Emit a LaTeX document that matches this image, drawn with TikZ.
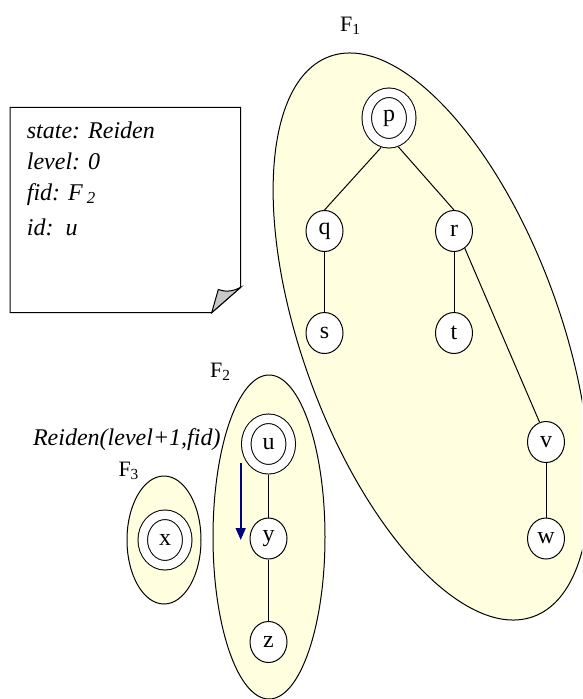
\documentclass[tikz,border=0pt]{standalone}
\usepackage{fontspec}
\setmainfont{Liberation Serif}
\usetikzlibrary{shapes.geometric,arrows.meta}
\definecolor{setfill}{RGB}{255,255,224}
\definecolor{arrowblue}{RGB}{0,0,128}
\definecolor{foldgray}{RGB}{200,200,200}
\tikzset{
  vtx/.style={draw, ellipse, fill=white, line width=1pt, minimum width=37pt,
    minimum height=41pt, inner sep=0pt, font=\fontsize{24}{24}\selectfont},
  rootvtx/.style={draw, ellipse, fill=white, line width=1pt, double=white,
    double distance=8.5pt, minimum width=44.5pt, minimum height=50.5pt,
    inner sep=0pt, outer sep=5.5pt, font=\fontsize{24}{24}\selectfont},
  setshape/.style={draw, fill=setfill, line width=1pt},
  edge/.style={line width=1pt},
  setlabel/.style={anchor=base west, inner sep=0pt, font=\fontsize{22}{22}\selectfont},
  notetext/.style={anchor=base west, inner sep=0pt, font=\fontsize{24}{24}\selectfont\itshape},
}
\begin{document}
\begin{tikzpicture}[x=1pt,y=-1pt]
\useasboundingbox (0,0) rectangle (582,699);
\clip (0,0) rectangle (582,699);
% sets
\draw[setshape, rotate around={-70:(431.5,336.5)}] (431.5,336.5) ellipse [x radius=298pt, y radius=129pt];
\draw[setshape] (269,537) ellipse [x radius=56pt, y radius=162pt];
\draw[setshape] (164,540) ellipse [x radius=37pt, y radius=64pt];
% note
\draw[line width=1pt, fill=white] (10,107.3) -- (240.7,107.3) -- (240.7,287.3) -- (211.7,312.7) -- (10,312.7) -- cycle;
\draw[line width=1pt, fill=foldgray] (211.7,312.7) -- (240.7,287.3) .. controls (230,293) and (223,291) .. (218.3,289.5) -- cycle;
\node[notetext] (n1) at (26.7,138.3) {state: Reiden};
\node[notetext] (n2) at (26.7,169.3) {level: 0};
\node[notetext] (n3) at (26.7,200) {fid: F\,\textsubscript{2}};
\node[notetext] (n4) at (26.7,235) {id:\ \ u};
% labels
\node[setlabel] (F1) at (340,31.7) {F\textsubscript{1}};
\node[setlabel] (F2) at (210,377.3) {F\textsubscript{2}};
\node[setlabel] (F3) at (118.3,476.7) {F\textsubscript{3}};
\node[notetext, anchor=base east] (call) at (220.7,445) {Reiden(level+1,fid)};
% vertices
\node[rootvtx] (p) at (389,118) {p};
\node[vtx] (q) at (324.5,231) {q};
\node[vtx] (r) at (454,231) {r};
\node[vtx] (s) at (324.5,333) {s};
\node[vtx] (t) at (454,333) {t};
\node[vtx] (v) at (546,442) {v};
\node[vtx] (w) at (546,538.5) {w};
\node[rootvtx] (u) at (268.5,444) {u};
\node[vtx] (y) at (268.5,538.5) {y};
\node[vtx] (z) at (268.5,642) {z};
\node[rootvtx] (x) at (165,540) {x};
% edges
\draw[edge] (p.-105) -- (q.north);
\draw[edge] (p.-72) -- (r.north);
\draw[edge] (q) -- (s);
\draw[edge] (r) -- (t);
\draw[edge] (r.-58) -- (v.108);
\draw[edge] (v) -- (w);
\draw[edge] (u) -- (y);
\draw[edge] (y) -- (z);
% call arrow
\coordinate (aS) at (240.7,463);
\coordinate (aE) at (240.7,540);
\draw[arrowblue, line width=1.6pt, -{Triangle[length=12pt,width=10pt]}] (aS) -- (aE);
\end{tikzpicture}
\end{document}
